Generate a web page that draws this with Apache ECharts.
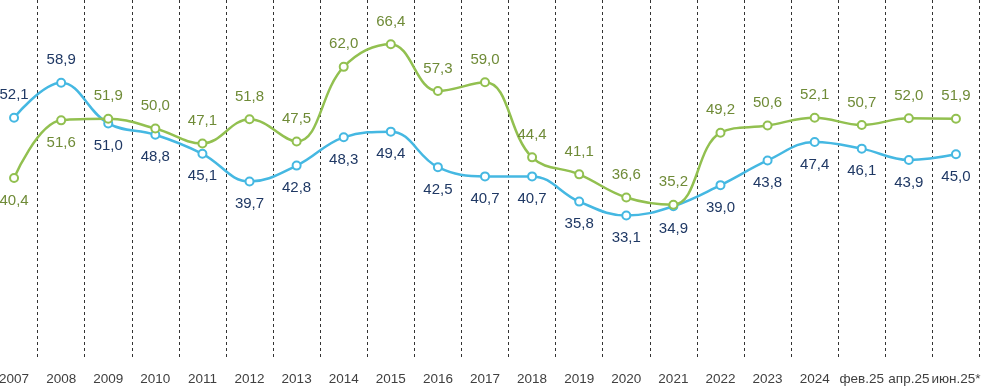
<!DOCTYPE html>
<html><head><meta charset="utf-8">
<script src="https://cdn.jsdelivr.net/npm/echarts@6/dist/echarts.min.js"></script>
<style>html,body{margin:0;padding:0;background:#fff}#c{width:987px;height:388px}</style>
</head><body><div id="c"></div>
<script>
const categories = ['2007','2008','2009','2010','2011','2012','2013','2014','2015','2016','2017','2018','2019','2020','2021','2022','2023','2024','фев.25','апр.25','июн.25*'];
const blueValues = [52.1,58.9,51.0,48.8,45.1,39.7,42.8,48.3,49.4,42.5,40.7,40.7,35.8,33.1,34.9,39.0,43.8,47.4,46.1,43.9,45.0];
const greenValues = [40.4,51.6,51.9,50.0,47.1,51.8,47.5,62.0,66.4,57.3,59.0,44.4,41.1,36.6,35.2,49.2,50.6,52.1,50.7,52.0,51.9];
const blueAbove = [0,1];      // indices with label above
const greenBelow = [0,1];     // indices with label below

const fmt = v => v.toFixed(1).replace('.', ',');
const FONT = 'Liberation Sans';

function buildData(vals, special, specialPos, normalPos) {
  return vals.map((v, i) => {
    const pos = special.includes(i) ? specialPos : normalPos;
    return { value: v, label: { position: pos, distance: pos === 'top' ? 10 : 10 } };
  });
}

const chart = echarts.init(document.getElementById('c'), null, {renderer: 'canvas'});
chart.setOption({
  animation: false,
  backgroundColor: '#ffffff',
  grid: { left: -9.5, right: 7.5, top: 0, bottom: 28, outerBoundsMode: 'none', containLabel: false },
  xAxis: {
    type: 'category',
    data: categories,
    boundaryGap: true,
    axisLine: { show: false },
    axisTick: { show: false },
    axisLabel: { interval: 0, color: '#404040', fontFamily: FONT, fontSize: 13.5, margin: 12 },
    splitLine: { show: true, interval: 0, lineStyle: { color: '#333333', type: [3, 3], width: 1 } }
  },
  yAxis: {
    type: 'value', min: 5, max: 75, show: false, splitLine: { show: false }
  },
  series: [
    {
      type: 'line', smooth: 0.4, smoothConstraint: false, data: buildData(blueValues, blueAbove, 'top', 'bottom'),
      symbol: 'circle', symbolSize: 8,
      lineStyle: { color: '#45B8E2', width: 2.5 },
      itemStyle: { color: '#ffffff', borderColor: '#45B8E2', borderWidth: 2 },
      label: { show: true, color: '#1F3864', fontFamily: FONT, fontSize: 15, formatter: p => fmt(p.value) },
      z: 3
    },
    {
      type: 'line', smooth: 0.4, smoothConstraint: false, data: buildData(greenValues, greenBelow, 'bottom', 'top'),
      symbol: 'circle', symbolSize: 8,
      lineStyle: { color: '#92C050', width: 2.5 },
      itemStyle: { color: '#ffffff', borderColor: '#92C050', borderWidth: 2 },
      label: { show: true, color: '#6F8B37', fontFamily: FONT, fontSize: 15, formatter: p => fmt(p.value) },
      z: 4
    }
  ]
});
</script></body></html>
